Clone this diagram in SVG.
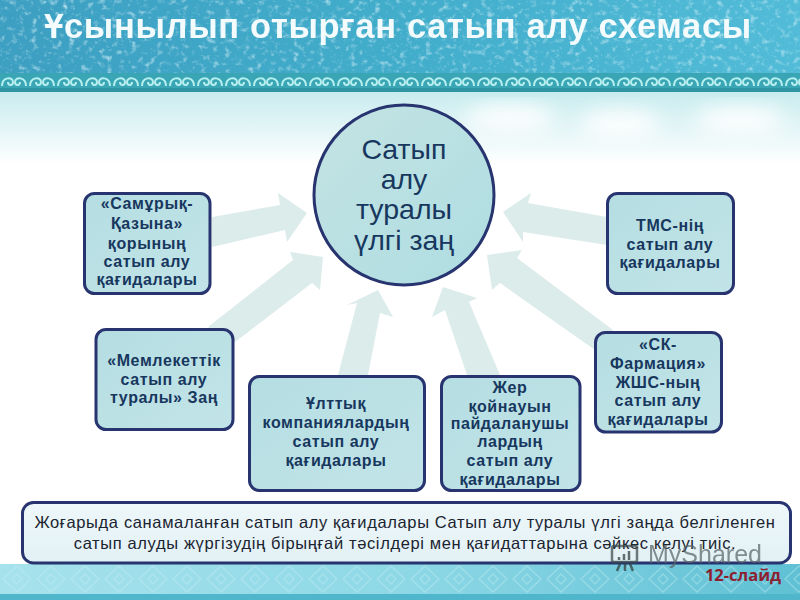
<svg xmlns="http://www.w3.org/2000/svg" width="800" height="600" viewBox="0 0 800 600">
<style>
.box{fill:url(#boxFill);stroke:#27346f;stroke-width:3}
.t{font-family:"Liberation Sans",Arial,sans-serif;font-weight:bold;font-size:16px;fill:#17375e;text-anchor:middle;letter-spacing:.6px}
.c{font-family:"Liberation Sans",Arial,sans-serif;font-size:28.5px;fill:#17375e;text-anchor:middle}
.n{font-family:"Liberation Sans",Arial,sans-serif;font-size:16.5px;fill:#1b2430;text-anchor:middle;letter-spacing:.63px}
.arrow{fill:#dcecea}
</style>
<defs>
<linearGradient id="top" x1="0" x2="1" y1="0" y2="0"><stop offset="0" stop-color="#3d9fc2"/><stop offset=".5" stop-color="#42adcb"/><stop offset="1" stop-color="#52bcd8"/></linearGradient>
<linearGradient id="sky" x1="0" x2="0" y1="0" y2="1"><stop offset="0" stop-color="#c8ecef"/><stop offset=".55" stop-color="#e6f6f7"/><stop offset="1" stop-color="#ffffff"/></linearGradient>
<linearGradient id="foot" x1="0" x2="1" y1="0" y2="0"><stop offset="0" stop-color="#a6e2ec"/><stop offset=".5" stop-color="#8ed8e6"/><stop offset="1" stop-color="#5fc0d4"/></linearGradient>
<linearGradient id="boxFill" x1="0" x2="1" y1="0" y2="1"><stop offset="0" stop-color="#b5dee2"/><stop offset="1" stop-color="#c2e4e8"/></linearGradient>
<linearGradient id="circ" x1="0" x2="1" y1="0" y2="1"><stop offset="0" stop-color="#c4e3e3"/><stop offset="1" stop-color="#aedde2"/></linearGradient>
<linearGradient id="note" x1="0" x2="0" y1="0" y2="1"><stop offset="0" stop-color="#eef7f9"/><stop offset="1" stop-color="#e2f1f6"/></linearGradient>
<filter id="ice" x="0" y="0" width="100%" height="100%"><feTurbulence type="fractalNoise" baseFrequency=".16 .18" numOctaves="4" seed="7"/><feColorMatrix values="0 0 0 0 .72  0 0 0 0 .9  0 0 0 0 .95  1.2 1.2 0 0 -1.25"/></filter>
<filter id="soft" x="-20%" y="-20%" width="140%" height="140%"><feGaussianBlur stdDeviation="10"/></filter>
<filter id="blur"><feGaussianBlur stdDeviation=".35"/></filter>
<pattern id="orn" x="0" y="73" width="56" height="19" patternUnits="userSpaceOnUse">
<rect width="56" height="19" fill="#3aa6b5"/>
<rect y="15" width="56" height="4" fill="#2f95a5"/>
<path d="M2 13C2 4 13 3 13 9C13 13 8 13 8 9M26 13C26 4 15 3 15 9C15 13 20 13 20 9M30 13C30 4 41 3 41 9C41 13 36 13 36 9M54 13C54 4 43 3 43 9C43 13 48 13 48 9" fill="none" stroke="#b5efef" stroke-width="2"/>
</pattern>
<pattern id="dia" x="0" y="564" width="34" height="30" patternUnits="userSpaceOnUse">
<path d="M17 2L31 15L17 28L3 15ZM17 10L22 15L17 20L12 15Z" fill="none" stroke="#c5eef3" stroke-opacity=".4" stroke-width="1.300"/>
</pattern>
</defs>

<g id="background">
<rect width="800" height="600" fill="#fff"/>
<rect y="92" width="800" height="72" fill="url(#sky)"/>
<g fill="#fff" filter="url(#soft)" opacity=".9"><ellipse cx="510" cy="118" rx="45" ry="14"/><ellipse cx="620" cy="124" rx="40" ry="14"/><ellipse cx="740" cy="120" rx="45" ry="14"/></g>
<rect width="800" height="74" fill="url(#top)"/>
<rect width="800" height="74" filter="url(#ice)"/>
<rect y="73" width="800" height="19" fill="url(#orn)"/>
<rect y="564" width="800" height="36" fill="url(#foot)"/>
<rect y="564" width="800" height="31" fill="url(#dia)"/>
<rect y="594" width="800" height="6" fill="#4fb6cc"/>
</g>

<text x="398" y="38" font-family="'Liberation Sans',Arial,sans-serif" font-size="34.5" font-weight="bold" fill="#f4fbfc" text-anchor="middle" letter-spacing=".66" filter="url(#blur)">Ұсынылып отырған сатып алу схемасы</text>

<g id="connectors">
<polygon class="arrow" points="212,217 280,205 278,193 307,213 287,242 285,230 212,247"/>
<polygon class="arrow" points="208,327 293,260 290,252 323,257 320,290 312,283 235,342"/>
<polygon class="arrow" points="338,375 357,303 347,305 378,290 393,317 380,313 368,375"/>
<polygon class="arrow" points="467,375 445,310 432,317 443,287 477,298 469,302 500,375"/>
<polygon class="arrow" points="613,330 517,258 522,250 487,255 492,290 500,283 595,350"/>
<polygon class="arrow" points="607,217 528,203 531,193 503,212 523,242 523,232 607,245"/>
</g>

<g id="node-center">
<circle cx="404" cy="195" r="90" fill="url(#circ)" stroke="#27346f" stroke-width="3"/>
<text class="c" x="404" y="159">Сатып</text>
<text class="c" x="404" y="189">алу</text>
<text class="c" x="404" y="219">туралы</text>
<text class="c" x="404" y="250">үлгі заң</text>
</g>

<g id="node-samruk">
<rect class="box" x="84.500" y="193.500" width="125.500" height="100" rx="10"/>
<text class="t" x="147" y="209">«Самұрық-</text>
<text class="t" x="147" y="229">Қазына»</text>
<text class="t" x="147" y="249">қорының</text>
<text class="t" x="147" y="267">сатып алу</text>
<text class="t" x="147" y="285">қағидалары</text>
</g>

<g id="node-memleket">
<rect class="box" x="96" y="329.500" width="137" height="100" rx="10"/>
<text class="t" x="164" y="366">«Мемлекеттік</text>
<text class="t" x="164" y="385">сатып алу</text>
<text class="t" x="164" y="403">туралы» Заң</text>
</g>

<g id="node-ulttyk">
<rect class="box" x="249.500" y="376.500" width="175" height="114" rx="10"/>
<text class="t" x="336" y="409">Ұлттық</text>
<text class="t" x="336" y="428">компаниялардың</text>
<text class="t" x="336" y="447">сатып алу</text>
<text class="t" x="336" y="466">қағидалары</text>
</g>

<g id="node-zher">
<rect class="box" x="441.500" y="376.500" width="138.500" height="114" rx="10"/>
<text class="t" x="510" y="393">Жер</text>
<text class="t" x="510" y="412">қойнауын</text>
<text class="t" x="510" y="429">пайдаланушы</text>
<text class="t" x="510" y="447">лардың</text>
<text class="t" x="510" y="466">сатып алу</text>
<text class="t" x="510" y="485">қағидалары</text>
</g>

<g id="node-sk">
<rect class="box" x="595.500" y="332.500" width="126" height="99.500" rx="10"/>
<text class="t" x="658" y="350">«СК-</text>
<text class="t" x="658" y="369">Фармация»</text>
<text class="t" x="658" y="388">ЖШС-ның</text>
<text class="t" x="658" y="406">сатып алу</text>
<text class="t" x="658" y="425">қағидалары</text>
</g>

<g id="node-tms">
<rect class="box" x="607.500" y="193.500" width="126" height="100" rx="10"/>
<text class="t" x="670" y="231">ТМС-нің</text>
<text class="t" x="670" y="250">сатып алу</text>
<text class="t" x="670" y="268">қағидалары</text>
</g>

<g id="node-note">
<rect x="22.500" y="502.500" width="768" height="60.500" rx="11" fill="url(#note)" stroke="#27346f" stroke-width="3"/>
<text class="n" x="405" y="528">Жоғарыда санамаланған сатып алу қағидалары Сатып алу туралы үлгі заңда белгіленген</text>
<text class="n" x="405" y="549">сатып алуды жүргізудің бірыңғай тәсілдері мен қағидаттарына сәйкес келуі тиіс.</text>
</g>

<g id="watermark" opacity=".72">
<rect x="612" y="546" width="25" height="16" rx="2" fill="none" stroke="#3b4a4a" stroke-width="2.500"/>
<path d="M619 557v3M624 554v6M629 551v9" stroke="#2c3a3a" stroke-width="2.500"/>
<path d="M620 564l-3 7M625 564v7M630 564l3 7" stroke="#2c3a3a" stroke-width="2.500"/>
<text x="648" y="563" font-family="'Liberation Sans',Arial,sans-serif" font-size="25" fill="#5b6568" textLength="114">MyShared</text>
</g>

<text x="743" y="581" font-family="'Open Sans','Noto Sans',sans-serif" font-size="16.500" font-weight="bold" fill="#8c2030" text-anchor="middle">12-слайд</text>
</svg>
